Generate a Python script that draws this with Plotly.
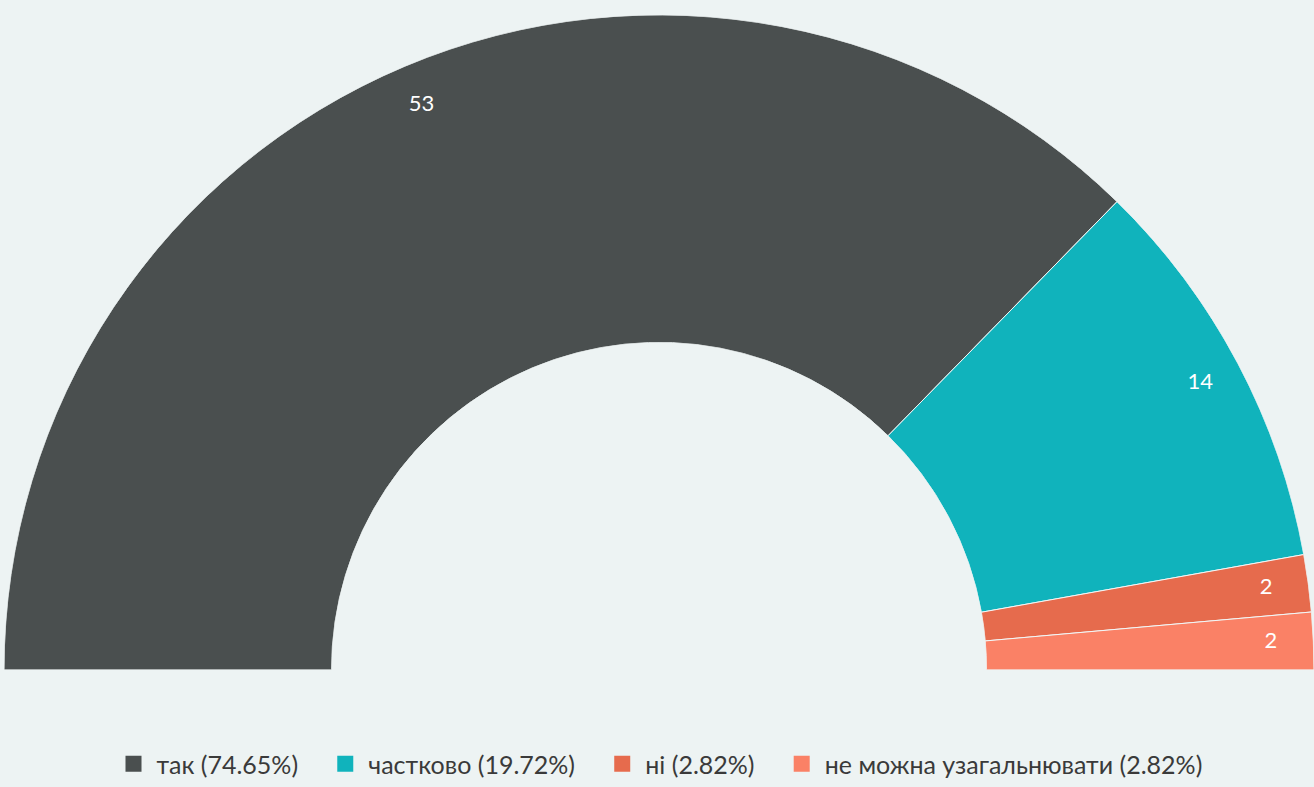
import plotly.graph_objects as go

labels = ["так", "частково", "ні", "не можна узагальнювати"]
values = [53, 14, 2, 2]
colors = ["#4a4f4f", "#10b3bc", "#e66b4d", "#fa8166"]

total = sum(values)
pct = [v / total * 100 for v in values]

# semicircle: 180 degrees split by share
widths = [v / total * 180 for v in values]
centers = []
acc = 0
for w in widths:
    centers.append(acc + w / 2)
    acc += w

fig = go.Figure()

for i in range(len(values)):
    fig.add_trace(go.Barpolar(
        r=[1],
        theta=[centers[i]],
        width=[widths[i]],
        marker=dict(color=colors[i], line=dict(color="#f2f7f7", width=1)),
        name=labels[i],
        showlegend=False,
        hoverinfo="skip",
    ))

# value labels
fig.add_trace(go.Scatterpolar(
    r=[0.87] * len(values),
    theta=centers,
    mode="text",
    text=[str(v) for v in values],
    textfont=dict(family="Lato", size=22, color="white"),
    showlegend=False,
    hoverinfo="skip",
))

# legend entries (nbsp padding to widen the gap between items)
pad = "\u00a0\u00a0\u00a0"
for i in range(len(values)):
    fig.add_trace(go.Scatter(
        x=[None], y=[None],
        mode="markers",
        marker=dict(symbol="square", size=22, color=colors[i]),
        name=f"{labels[i]} ({pct[i]:.2f}%)" + (pad if i < len(values) - 1 else ""),
    ))

fig.update_layout(
    width=1314,
    height=787,
    margin=dict(l=4, r=0, t=0, b=0),
    paper_bgcolor="#edf3f3",
    plot_bgcolor="#edf3f3",
    font=dict(family="Lato", color="#3a3a3a"),
    polar=dict(
        sector=[0, 180],
        hole=0.5,
        domain=dict(x=[0, 1], y=[0.113, 0.993]),
        bgcolor="rgba(0,0,0,0)",
        radialaxis=dict(range=[0, 1], visible=False),
        angularaxis=dict(visible=False, rotation=180, direction="clockwise"),
    ),
    xaxis=dict(visible=False),
    yaxis=dict(visible=False),
    legend=dict(
        orientation="h",
        x=0.5, xanchor="center",
        y=0.002, yanchor="middle",
        font=dict(family="Lato", size=25, color="#3a3a3a"),
        itemsizing="trace",
        itemwidth=36,
    ),
)

fig.write_html("out.html", config={"displayModeBar": False},
               post_script="document.body.style.margin='0';")
